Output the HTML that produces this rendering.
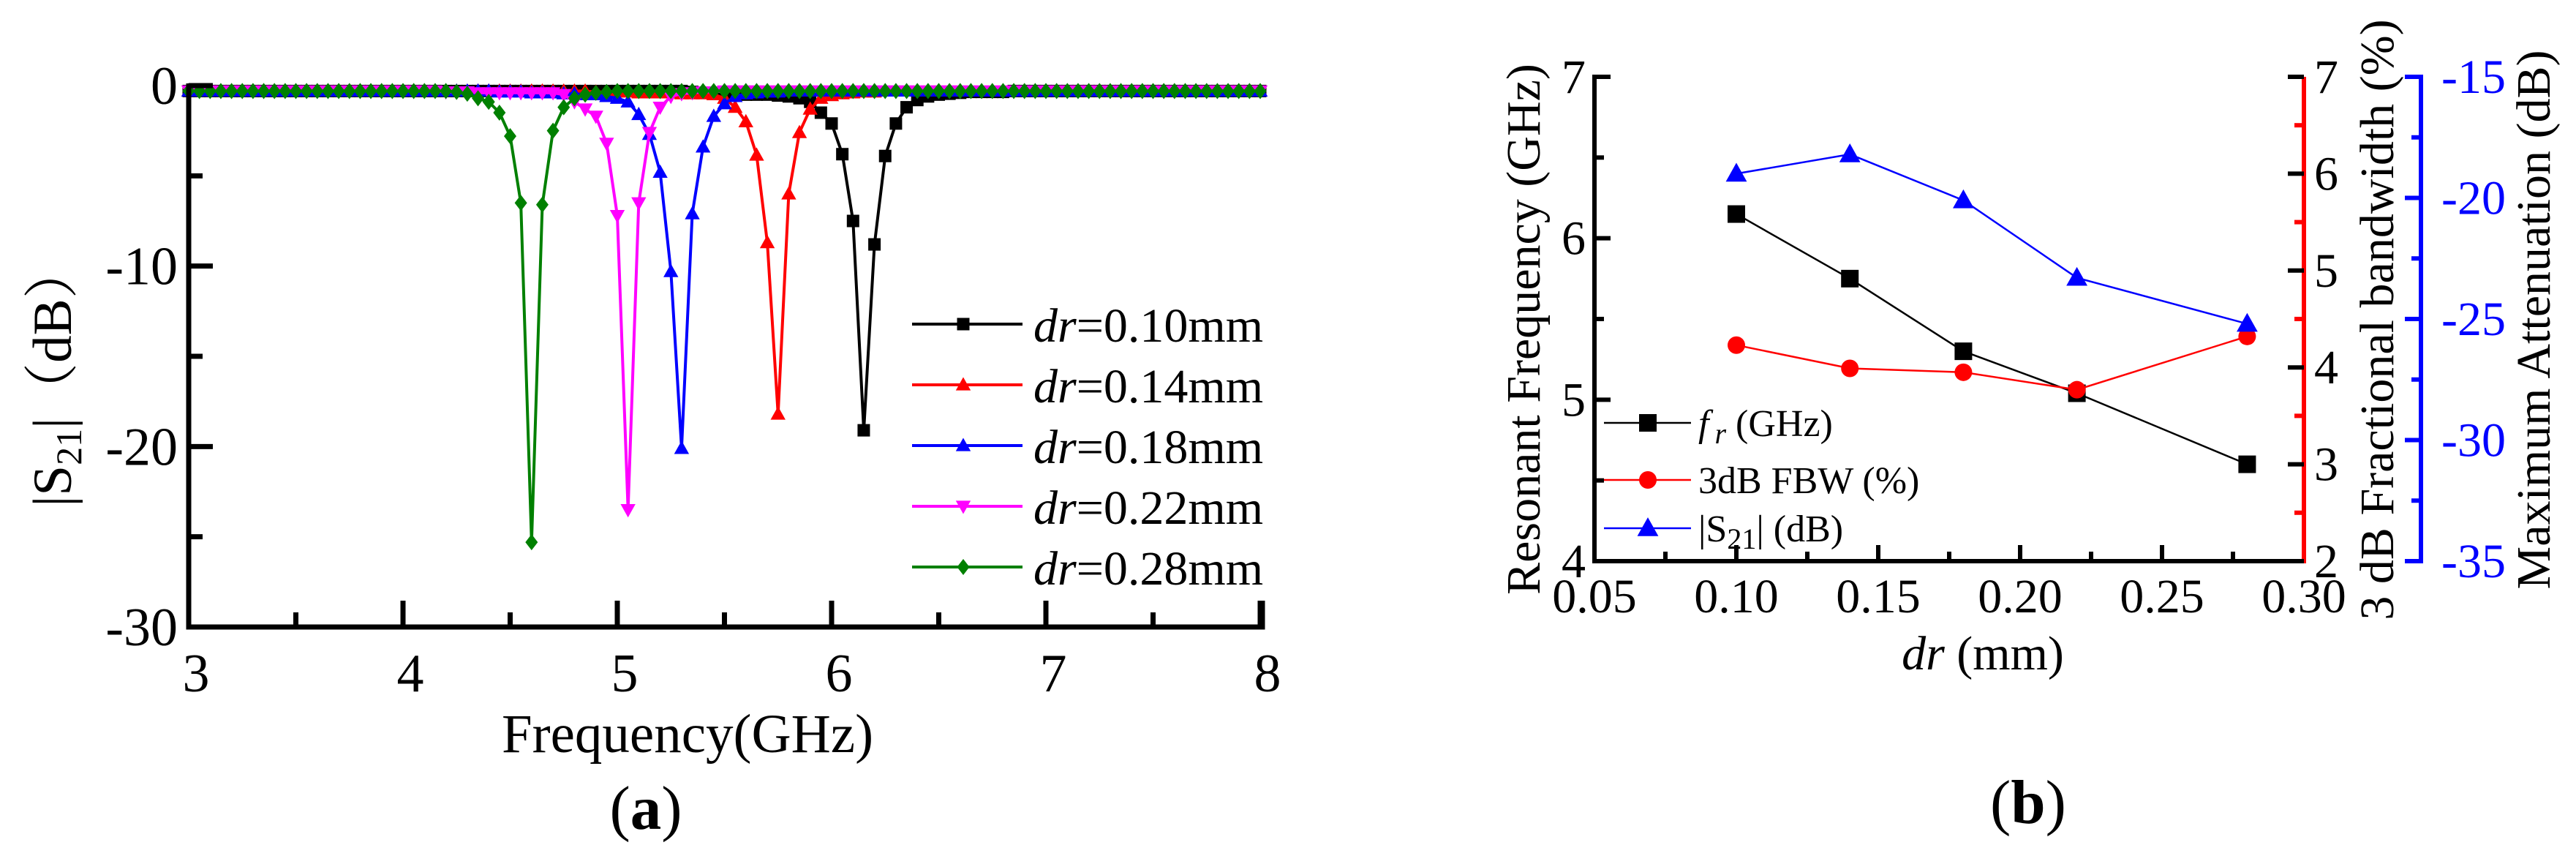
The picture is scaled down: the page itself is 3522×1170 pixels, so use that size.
<!DOCTYPE html>
<html><head><meta charset="utf-8"><style>
html,body{margin:0;padding:0;background:#fff;}
svg{display:block;font-family:"Liberation Serif","Noto Serif CJK SC",serif;}
</style></head><body>
<svg id="fig" width="3522" height="1170" viewBox="0 0 3522 1170" xmlns="http://www.w3.org/2000/svg">
<g id="pa"></g>
<g id="pb"></g>
</svg>
<script>
// ---------- Panel (a) data ----------
const aXTicks = [3,4,5,6,7,8];
const aYTicks = [0,-10,-20,-30];
const aLabels = ['0.10','0.14','0.18','0.22','0.28'];
const aColors = ['#000000','#ff0000','#0000ff','#ff00ff','#008000'];
const aMarkers = ['square','tri-up','tri-up','tri-down','diamond'];
const aFreqStart = 3.0, aFreqStep = 0.05;
const s010 = [
-0.3,-0.3,-0.3,-0.3,-0.3,-0.3,-0.3,-0.3,-0.3,-0.3,
-0.3,-0.3,-0.3,-0.3,-0.3,-0.3,-0.3,-0.3,-0.3,-0.3,
-0.3,-0.3,-0.3,-0.3,-0.3,-0.3,-0.3,-0.3,-0.3,-0.3,
-0.3,-0.3,-0.3,-0.3,-0.3,-0.3,-0.3,-0.3,-0.3,-0.3,
-0.3,-0.3,-0.3,-0.3,-0.3,-0.3,-0.3,-0.35,-0.4,-0.4,
-0.45,-0.45,-0.5,-0.5,-0.5,-0.55,-0.6,-0.7,-0.9,-1.5,
-2.1,-3.8,-7.5,-19.1,-8.8,-3.9,-2.1,-1.2,-0.8,-0.6,
-0.5,-0.45,-0.4,-0.35,-0.35,-0.35,-0.35,-0.3,-0.3,-0.3,
-0.3,-0.3,-0.3,-0.3,-0.3,-0.3,-0.3,-0.3,-0.3,-0.3,
-0.3,-0.3,-0.3,-0.3,-0.3,-0.3,-0.3,-0.3,-0.3,-0.3,
-0.3];
const s014 = [
-0.3,-0.3,-0.3,-0.3,-0.3,-0.3,-0.3,-0.3,-0.3,-0.3,
-0.3,-0.3,-0.3,-0.3,-0.3,-0.3,-0.3,-0.3,-0.3,-0.3,
-0.3,-0.3,-0.3,-0.3,-0.3,-0.3,-0.3,-0.3,-0.3,-0.3,
-0.3,-0.3,-0.3,-0.3,-0.3,-0.3,-0.3,-0.3,-0.35,-0.35,
-0.35,-0.35,-0.4,-0.4,-0.4,-0.4,-0.45,-0.45,-0.45,-0.5,
-0.7,-1.2,-2.0,-3.85,-8.7,-18.2,-6.0,-2.6,-1.3,-0.7,
-0.55,-0.45,-0.4,-0.35,-0.35,-0.3,-0.3,-0.3,-0.3,-0.3,
-0.3,-0.3,-0.3,-0.3,-0.3,-0.3,-0.3,-0.3,-0.3,-0.3,
-0.3,-0.3,-0.3,-0.3,-0.3,-0.3,-0.3,-0.3,-0.3,-0.3,
-0.3,-0.3,-0.3,-0.3,-0.3,-0.3,-0.3,-0.3,-0.3,-0.3,
-0.3];
const s018 = [
-0.3,-0.3,-0.3,-0.3,-0.3,-0.3,-0.3,-0.3,-0.3,-0.3,
-0.3,-0.3,-0.3,-0.3,-0.3,-0.3,-0.3,-0.3,-0.3,-0.3,
-0.3,-0.3,-0.3,-0.3,-0.3,-0.3,-0.3,-0.3,-0.3,-0.35,
-0.35,-0.35,-0.4,-0.4,-0.4,-0.45,-0.45,-0.5,-0.5,-0.6,
-0.7,-0.9,-1.6,-2.7,-4.8,-10.3,-20.1,-7.1,-3.4,-1.7,
-1.0,-0.6,-0.45,-0.4,-0.35,-0.35,-0.3,-0.3,-0.3,-0.3,
-0.3,-0.3,-0.3,-0.3,-0.3,-0.3,-0.3,-0.3,-0.3,-0.3,
-0.3,-0.3,-0.3,-0.3,-0.3,-0.3,-0.3,-0.3,-0.3,-0.3,
-0.3,-0.3,-0.3,-0.3,-0.3,-0.3,-0.3,-0.3,-0.3,-0.3,
-0.3,-0.3,-0.3,-0.3,-0.3,-0.3,-0.3,-0.3,-0.3,-0.3,
-0.3];
const s022 = [
-0.3,-0.3,-0.3,-0.3,-0.3,-0.3,-0.3,-0.3,-0.3,-0.3,
-0.3,-0.3,-0.3,-0.3,-0.3,-0.3,-0.3,-0.3,-0.3,-0.3,
-0.3,-0.3,-0.3,-0.3,-0.35,-0.35,-0.35,-0.4,-0.4,-0.4,
-0.4,-0.4,-0.4,-0.4,-0.4,-0.5,-0.9,-1.3,-1.7,-3.2,
-7.2,-23.5,-6.5,-2.6,-1.2,-0.6,-0.45,-0.4,-0.35,-0.35,
-0.3,-0.3,-0.3,-0.3,-0.3,-0.3,-0.3,-0.3,-0.3,-0.3,
-0.3,-0.3,-0.3,-0.3,-0.3,-0.3,-0.3,-0.3,-0.3,-0.3,
-0.3,-0.3,-0.3,-0.3,-0.3,-0.3,-0.3,-0.3,-0.3,-0.3,
-0.3,-0.3,-0.3,-0.3,-0.3,-0.3,-0.3,-0.3,-0.3,-0.3,
-0.3,-0.3,-0.3,-0.3,-0.3,-0.3,-0.3,-0.3,-0.3,-0.3,
-0.3];
const s028 = [
-0.3,-0.3,-0.3,-0.3,-0.3,-0.3,-0.3,-0.3,-0.3,-0.3,
-0.3,-0.3,-0.3,-0.3,-0.3,-0.3,-0.3,-0.3,-0.3,-0.3,
-0.3,-0.3,-0.3,-0.3,-0.3,-0.35,-0.45,-0.7,-0.9,-1.5,
-2.8,-6.5,-25.3,-6.6,-2.5,-1.2,-0.7,-0.5,-0.4,-0.35,
-0.3,-0.3,-0.3,-0.3,-0.3,-0.3,-0.3,-0.3,-0.3,-0.3,
-0.3,-0.3,-0.3,-0.3,-0.3,-0.3,-0.3,-0.3,-0.3,-0.3,
-0.3,-0.3,-0.3,-0.3,-0.3,-0.3,-0.3,-0.3,-0.3,-0.3,
-0.3,-0.3,-0.3,-0.3,-0.3,-0.3,-0.3,-0.3,-0.3,-0.3,
-0.3,-0.3,-0.3,-0.3,-0.3,-0.3,-0.3,-0.3,-0.3,-0.3,
-0.3,-0.3,-0.3,-0.3,-0.3,-0.3,-0.3,-0.3,-0.3,-0.3,
-0.3];
const aSeries = [s010, s014, s018, s022, s028];

// ---------- Panel (b) data ----------
const bDr = [0.10, 0.14, 0.18, 0.22, 0.28];
const bFr = [6.15, 5.75, 5.30, 5.04, 4.60];
const bFbw = [4.23, 3.99, 3.95, 3.77, 4.32];
const bS21 = [-19.0, -18.2, -20.1, -23.3, -25.2];
const bXTicks = ['0.05','0.10','0.15','0.20','0.25','0.30'];
const bLeftTicks = [4,5,6,7];
const bRedTicks = [2,3,4,5,6,7];
const bBlueTicks = [-15,-20,-25,-30,-35];

const NS = 'http://www.w3.org/2000/svg';
function mk(parent, tag, attrs, text) {
  const e = document.createElementNS(NS, tag);
  for (const k in attrs) e.setAttribute(k, attrs[k]);
  if (text !== undefined) e.textContent = text;
  parent.appendChild(e);
  return e;
}
function marker(parent, type, cx, cy, s, color) {
  let e;
  if (type === 'square') e = mk(parent, 'rect', {x: cx - s/2, y: cy - s/2, width: s, height: s, fill: color});
  else if (type === 'circle') e = mk(parent, 'circle', {cx: cx, cy: cy, r: s/2, fill: color});
  else if (type === 'tri-up') e = mk(parent, 'polygon', {points: `${cx},${cy - s*0.62} ${cx - s*0.6},${cy + s*0.45} ${cx + s*0.6},${cy + s*0.45}`, fill: color});
  else if (type === 'tri-down') e = mk(parent, 'polygon', {points: `${cx},${cy + s*0.62} ${cx - s*0.6},${cy - s*0.45} ${cx + s*0.6},${cy - s*0.45}`, fill: color});
  else e = mk(parent, 'polygon', {points: `${cx},${cy - s*0.65} ${cx + s*0.5},${cy} ${cx},${cy + s*0.65} ${cx - s*0.5},${cy}`, fill: color});
  return e;
}

// ================= Panel A =================
(function(){
  const g = document.getElementById('pa');
  const L = 258, R = 1723, T = 117, B = 857;
  const xs = f => L + (f - 3) / 5 * (R - L);
  const ys = v => T + (0 - v) / 30 * (B - T);

  for (let k = 0; k < aSeries.length; k++) {
    const sg = mk(g, 'g', {});
    
    
    const vals = aSeries[k];
    let d = '';
    for (let i = 0; i < vals.length; i++) {
      const f = aFreqStart + i * aFreqStep;
      d += (i ? 'L' : 'M') + xs(f).toFixed(1) + ',' + ys(vals[i]).toFixed(1);
    }
    const p = mk(sg, 'path', {d: d, fill: 'none', stroke: aColors[k], 'stroke-width': 4, 'stroke-linejoin': 'round'});
    
    
    for (let i = 0; i < vals.length; i++) {
      const f = aFreqStart + i * aFreqStep;
      const m = marker(sg, aMarkers[k], xs(f), ys(vals[i]), 17, aColors[k]);
      
      
    }
  }

  const ax = mk(g, 'g', {});
  
  
  mk(ax, 'path', {d: `M${L},${T-3} V${B} H${R+3} V${B-36}`, fill: 'none', stroke: '#000', 'stroke-width': 7});
  mk(ax, 'line', {x1: L, y1: T, x2: L + 30, y2: T, stroke: '#000', 'stroke-width': 7});
  for (let v = 0; v >= -30; v -= 5) {
    const major = v % 10 === 0;
    mk(ax, 'line', {x1: L, y1: ys(v), x2: L + (major ? 33 : 19), y2: ys(v), stroke: '#000', 'stroke-width': 7});
  }
  for (let f = 3; f <= 8; f += 0.5) {
    const major = Math.abs(f - Math.round(f)) < 1e-6;
    mk(ax, 'line', {x1: xs(f), y1: B, x2: xs(f), y2: B - (major ? 36 : 20), stroke: '#000', 'stroke-width': 7});
  }
  aYTicks.forEach(v => {
    const t = mk(ax, 'text', {x: L - 15, y: ys(v) + 25, 'font-size': 74, 'text-anchor': 'end'}, String(v));
    
    
  });
  aXTicks.forEach(v => {
    const t = mk(ax, 'text', {x: xs(v) + 10, y: B + 88, 'font-size': 74, 'text-anchor': 'middle'}, String(v));
    
    
  });
  const xt = mk(g, 'text', {x: 940, y: 1028, 'font-size': 75, 'text-anchor': 'middle'}, 'Frequency(GHz)');
  
  
  const yt = mk(g, 'text', {transform: 'translate(97,513) rotate(-90)', 'font-size': 75, 'text-anchor': 'middle'});
  
  
  mk(yt, 'tspan', {}, '|S');
  mk(yt, 'tspan', {'font-size': 50, dy: 14}, '21');
  mk(yt, 'tspan', {dy: -14}, '|（dB）');
  const cap = mk(g, 'text', {x: 883, y: 1133, 'font-size': 85, 'text-anchor': 'middle'});
  
  
  mk(cap, 'tspan', {}, '(');
  mk(cap, 'tspan', {'font-weight': 'bold'}, 'a');
  mk(cap, 'tspan', {}, ')');

  const lg = mk(g, 'g', {});
  
  
  const rows = [443, 526, 609, 692, 775];
  for (let k = 0; k < aLabels.length; k++) {
    const eg = mk(lg, 'g', {});
    
    
    mk(eg, 'line', {x1: 1247, y1: rows[k], x2: 1398, y2: rows[k], stroke: aColors[k], 'stroke-width': 4});
    marker(eg, aMarkers[k], 1317, rows[k], 17, aColors[k]);
    const t = mk(eg, 'text', {x: 1413, y: rows[k] + 24, 'font-size': 66});
    mk(t, 'tspan', {'font-style': 'italic'}, 'dr');
    mk(t, 'tspan', {}, '=' + aLabels[k] + 'mm');
  }
})();

// ================= Panel B =================
(function(){
  const g = document.getElementById('pb');
  const L = 2180, R = 3150, RB = 3310, T = 105, B = 767;
  const xs = v => L + (v - 0.05) / 0.25 * (R - L);
  const yl = v => B - (v - 4) / 3 * (B - T);
  const yr = v => B - (v - 2) / 5 * (B - T);
  const yb = v => B - (v + 35) / 20 * (B - T);

  const ax = mk(g, 'g', {});
  
  
  mk(ax, 'path', {d: `M${L+22},${T} H${L} V${B} H${R}`, fill: 'none', stroke: '#000', 'stroke-width': 6});
  for (let v = 4; v <= 7; v += 0.5) {
    const major = Number.isInteger(v);
    mk(ax, 'line', {x1: L, y1: yl(v), x2: L + (major ? 22 : 13), y2: yl(v), stroke: '#000', 'stroke-width': 6});
  }
  for (let v = 0.05; v <= 0.3001; v += 0.025) {
    const major = Math.abs(Math.round(v * 20) - v * 20) < 1e-6;
    mk(ax, 'line', {x1: xs(v), y1: B, x2: xs(v), y2: B - (major ? 22 : 13), stroke: '#000', 'stroke-width': 6});
  }
  mk(ax, 'line', {x1: R, y1: T, x2: R, y2: B + 3, stroke: '#ff0000', 'stroke-width': 6});
  for (let v = 2; v <= 7; v += 0.5) {
    const major = Number.isInteger(v);
    mk(ax, 'line', {x1: R, y1: yr(v), x2: R - (major ? 22 : 13), y2: yr(v), stroke: major ? '#000' : '#ff0000', 'stroke-width': 6});
  }
  mk(ax, 'line', {x1: RB, y1: T - 3, x2: RB, y2: B + 3, stroke: '#0000ff', 'stroke-width': 6});
  for (let v = -15; v >= -35; v -= 2.5) {
    const major = v % 5 === 0;
    mk(ax, 'line', {x1: RB, y1: yb(v), x2: RB - (major ? 22 : 13), y2: yb(v), stroke: '#0000ff', 'stroke-width': 6});
  }
  bLeftTicks.forEach(v => {
    const t = mk(ax, 'text', {x: L - 12, y: yl(v) + 22, 'font-size': 66, 'text-anchor': 'end'}, String(v));
    
    
  });
  bRedTicks.forEach(v => {
    const t = mk(ax, 'text', {x: R + 14, y: yr(v) + 22, 'font-size': 66}, String(v));
    
    
  });
  bBlueTicks.forEach(v => {
    const t = mk(ax, 'text', {x: RB + 28, y: yb(v) + 22, 'font-size': 66, fill: '#0000ff'}, String(v));
    
    
  });
  bXTicks.forEach(s => {
    const t = mk(ax, 'text', {x: xs(parseFloat(s)), y: B + 70, 'font-size': 66, 'text-anchor': 'middle'}, s);
    
    
  });

  const defs = [
    {name: 'fr', vals: bFr, ys: yl, color: '#000000', m: 'square'},
    {name: 'fbw', vals: bFbw, ys: yr, color: '#ff0000', m: 'circle'},
    {name: 's21', vals: bS21, ys: yb, color: '#0000ff', m: 'tri-up'}
  ];
  defs.forEach(s => {
    const sg = mk(g, 'g', {});
    
    
    let d = '';
    bDr.forEach((x, i) => { d += (i ? 'L' : 'M') + xs(x).toFixed(1) + ',' + s.ys(s.vals[i]).toFixed(1); });
    mk(sg, 'path', {d: d, fill: 'none', stroke: s.color, 'stroke-width': 2.5});
    bDr.forEach((x, i) => {
      const m = marker(sg, s.m, xs(x), s.ys(s.vals[i]), 24, s.color);
      
      
    });
  });

  const t1 = mk(g, 'text', {transform: 'translate(2105,450) rotate(-90)', 'font-size': 66, 'text-anchor': 'middle'}, 'Resonant Frequency (GHz)');
  
  
  const t2 = mk(g, 'text', {transform: 'translate(3272,437) rotate(-90)', 'font-size': 66, 'text-anchor': 'middle'}, '3 dB Fractional bandwidth (%)');
  
  
  const t3 = mk(g, 'text', {transform: 'translate(3486,437) rotate(-90)', 'font-size': 66, 'text-anchor': 'middle'}, 'Maximum Attenuation (dB)');
  
  
  const xt = mk(g, 'text', {x: 2711, y: 915, 'font-size': 66, 'text-anchor': 'middle'});
  
  
  mk(xt, 'tspan', {'font-style': 'italic'}, 'dr');
  mk(xt, 'tspan', {}, ' (mm)');
  const cap = mk(g, 'text', {x: 2773, y: 1125, 'font-size': 85, 'text-anchor': 'middle'});
  
  
  mk(cap, 'tspan', {}, '(');
  mk(cap, 'tspan', {'font-weight': 'bold'}, 'b');
  mk(cap, 'tspan', {}, ')');

  const lg = mk(g, 'g', {});
  
  
  const rows = [578, 656, 722];
  defs.forEach((s, k) => {
    const eg = mk(lg, 'g', {});
    
    
    mk(eg, 'line', {x1: 2193, y1: rows[k], x2: 2312, y2: rows[k], stroke: s.color, 'stroke-width': 2.5});
    marker(eg, s.m, 2253, rows[k], 24, s.color);
    const t = mk(eg, 'text', {x: 2322, y: rows[k] + 18, 'font-size': 52});
    if (k === 0) {
      mk(t, 'tspan', {'font-style': 'italic'}, 'f');
      mk(t, 'tspan', {'font-style': 'italic', 'font-size': 40, dx: 8, dy: 10}, 'r');
      mk(t, 'tspan', {dy: -10}, ' (GHz)');
    } else if (k === 1) {
      mk(t, 'tspan', {}, '3dB FBW (%)');
    } else {
      mk(t, 'tspan', {}, '|S');
      mk(t, 'tspan', {'font-size': 40, dy: 10}, '21');
      mk(t, 'tspan', {dy: -10}, '| (dB)');
    }
  });
})();
</script>
</body></html>
